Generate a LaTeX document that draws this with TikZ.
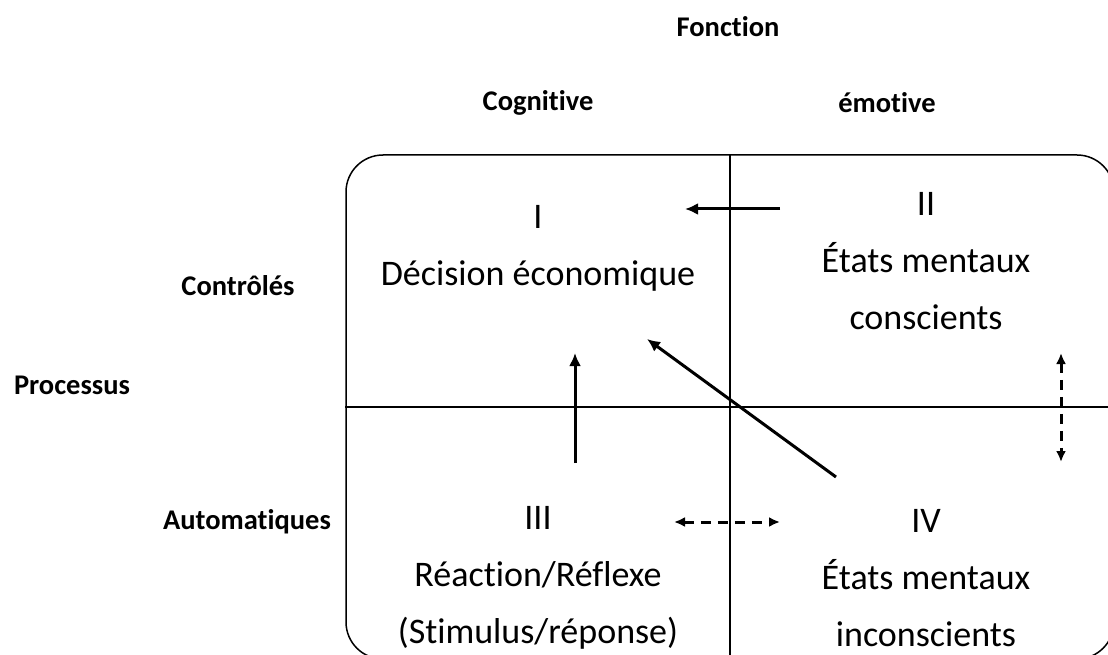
\documentclass[tikz,border=0pt]{standalone}
\usepackage{fontspec}
\setmainfont{Carlito}[Ligatures=NoCommon]
\usetikzlibrary{positioning,arrows.meta}

\begin{document}
\begin{tikzpicture}[x=1pt,y=-1pt,on grid,
		quad/.style={align=center,font=\fontsize{36}{57}\selectfont},
		axis/.style={font=\fontsize{28.5}{34}\selectfont\bfseries},
		link/.style={-{Latex[length=13pt,width=12pt]},line width=3pt},
		dlink/.style={{Latex[length=11pt,width=10pt]}-{Latex[length=11pt,width=10pt]},line width=3pt,dash pattern=on 10pt off 7pt}]
					\useasboundingbox (0,0) rectangle (1108,655);
					
					% cadre
					\node[draw,line width=1.5pt,rounded corners=37pt,minimum width=768pt,minimum height=504pt] (box) at (730,407) {};
					\draw[line width=1.2pt] (box.north) -- (box.south);
					\draw[line width=1.2pt] (box.west) -- (box.east);
					
					\node[quad] (I)                    at (538,248) {I\\Décision économique};
					\node[quad] (III) [below=330pt of I]   {III\\Réaction/Réflexe\\(Stimulus/réponse)};
					\node[quad] (IV)  [right=388pt of III] {IV\\États mentaux\\inconscients};
					\node[quad] (II)  [above=317pt of IV]  {II\\États mentaux\\conscients};
					
					\node[axis] (cog)  [above=145pt of I]   {Cognitive};
					\node[axis] (emo)  [right=349pt of cog] {émotive};
					\node[axis] (fct)  at (728,27)          {Fonction};
					\node[axis] (ctrl) at (238,286)         {Contrôlés};
					\node[axis] (aut)  at (247,522)         {Automatiques};
					\node[axis] (proc) at (72,385)          {Processus};
					
					% fleches
					\coordinate (IIa) at (780,209);  \coordinate (Ia) at (685,209);
					\coordinate (IIIa) at (575,463); \coordinate (Ib) at (575,353);
					\coordinate (IVa) at (836,477);  \coordinate (Ic) at (647,339);
					\coordinate (IIIb) at (674,522); \coordinate (IVb) at (780,522);
					\coordinate (IIb) at (1061,353); \coordinate (IVc) at (1061,462);
					
					\draw[link]  (IIa) -- (Ia);
					\draw[link]  (IIIa) -- (Ib);
					\draw[link]  (IVa) -- (Ic);
					\draw[dlink] (IIIb) -- (IVb);
					\draw[dlink] (IIb) -- (IVc);
				\end{tikzpicture}
\end{document}
